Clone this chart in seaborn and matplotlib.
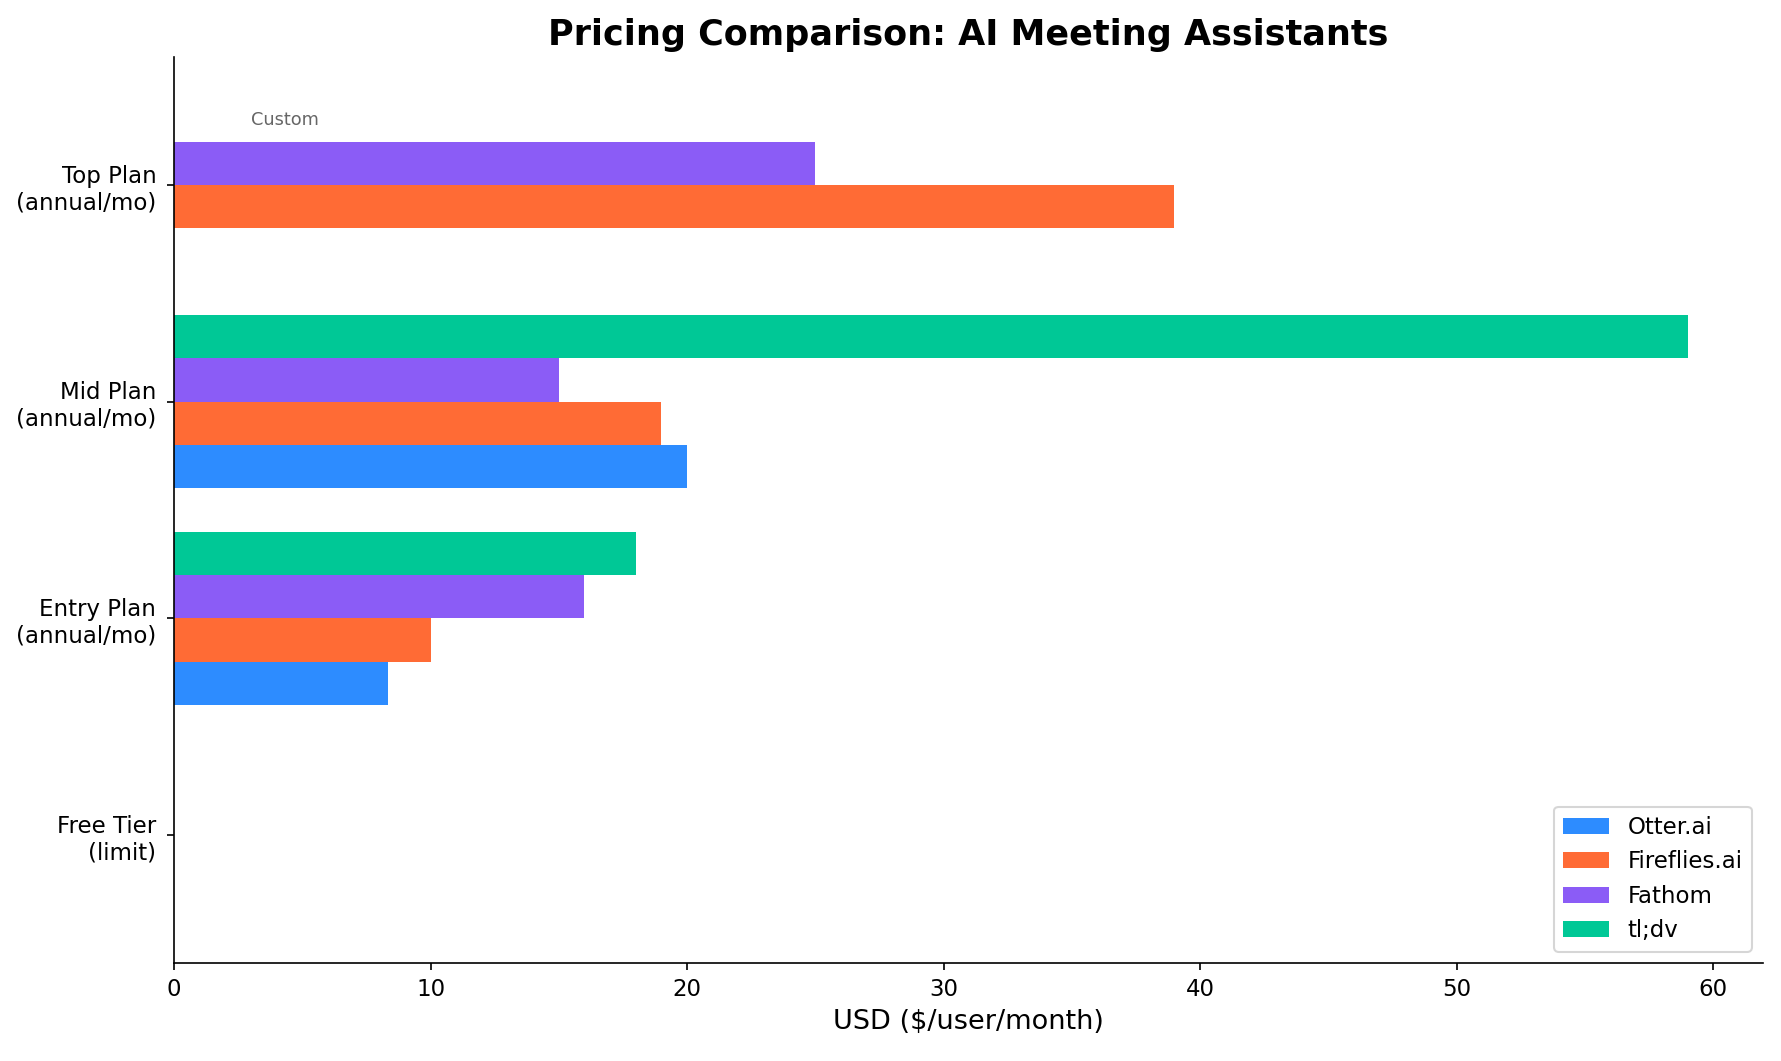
import numpy as np
import pandas as pd
import matplotlib
matplotlib.use("Agg")
import matplotlib.pyplot as plt
import seaborn as sns

categories = ["Free Tier\n(limit)", "Entry Plan\n(annual/mo)", "Mid Plan\n(annual/mo)", "Top Plan\n(annual/mo)"]
companies = ["Otter.ai", "Fireflies.ai", "Fathom", "tl;dv"]
otter = [0, 8.33, 20, np.nan]
fireflies = [0, 10, 19, 39]
fathom = [0, 16, 15, 25]
tldv = [0, 18, 59, np.nan]
colors = ["#2D8CFF", "#FF6B35", "#8B5CF6", "#00C896"]
custom_note = ("tl;dv", categories[3], "Custom")

rows = []
for comp, vals in zip(companies, [otter, fireflies, fathom, tldv]):
    for cat, v in zip(categories, vals):
        rows.append({"Plan": cat, "Company": comp, "Price": v})
df = pd.DataFrame(rows)

plt.rcParams['font.family'] = ['DejaVu Sans']
fig, ax = plt.subplots(figsize=(1781 / 150, 1061 / 150), dpi=150)
sns.barplot(data=df, y="Plan", x="Price", hue="Company", order=categories,
            hue_order=companies, palette=colors, orient="h", errorbar=None,
            width=0.8, saturation=1, ax=ax)

ax.set_ylim(-0.59, 3.59)
ax.set_xlim(0, 59 * 1.05)

# Custom label at tl;dv slot in Top Plan
ypos = categories.index(custom_note[1]) + 0.3
ax.text(3, ypos, custom_note[2], ha="left", va="center", fontsize=8.5, color="#666666")

ax.set_title("Pricing Comparison: AI Meeting Assistants", fontsize=16.8, fontweight="bold")
ax.set_xlabel("USD ($/user/month)", fontsize=13)
ax.set_ylabel("")
ax.tick_params(axis="x", labelsize=11)
ax.tick_params(axis="y", labelsize=11, pad=5)
sns.despine(ax=ax)
handles, labels = ax.get_legend_handles_labels()
ax.legend(handles, labels, loc="lower right", fontsize=11)

fig.subplots_adjust(left=0.0977, right=0.990, bottom=0.0924, top=0.946)
fig.savefig("out.png", dpi=150)
